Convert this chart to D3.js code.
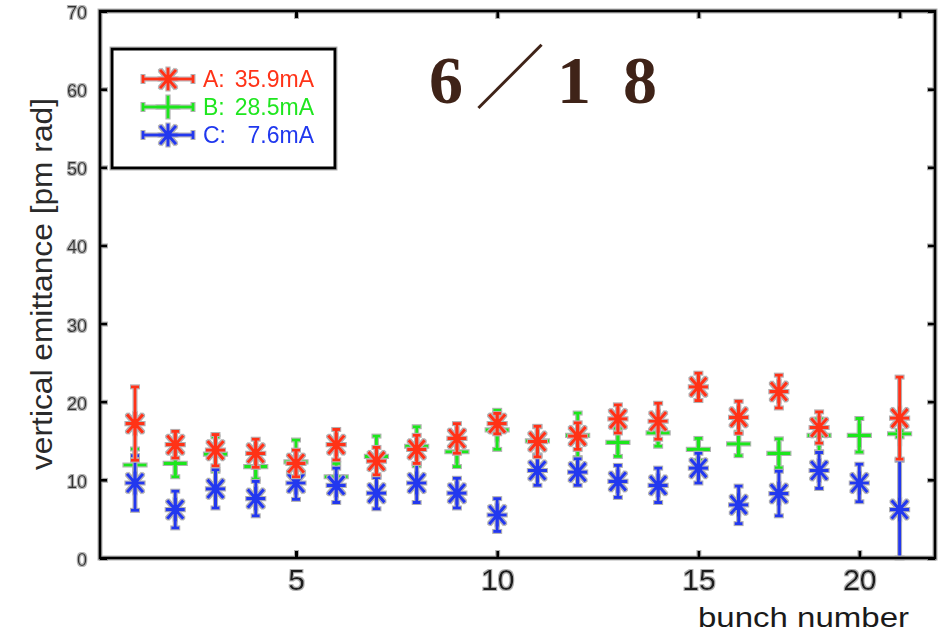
<!DOCTYPE html>
<html><head><meta charset="utf-8">
<script src="https://cdn.jsdelivr.net/npm/d3@7"></script>
<style>
html,body{margin:0;padding:0;background:#fff;}
svg{display:block;}
</style></head>
<body>
<script>
// ---------- data ----------
const bunches = [1,2,3,4,5,6,7,8,9,10,11,12,13,14,15,16,17,18,19,20];
const seriesA = [17.2,14.5,13.8,13.4,12.1,14.5,12.4,13.9,15.3,17.2,14.9,15.6,17.8,17.5,21.9,18.0,21.3,16.7,null,17.9];
const errA    = [4.7,1.7,2.0,1.8,1.7,1.95,1.75,1.8,1.9,1.3,1.95,1.7,1.8,2.3,1.75,2.05,2.1,2.0,null,5.25];
const seriesB = [11.9,12.1,13.3,11.7,12.3,10.4,13.0,14.3,13.6,16.4,15.0,15.7,14.8,16.0,13.9,14.6,13.4,15.7,15.7,15.9];
const errB    = [2.05,1.7,2.2,1.6,2.8,1.7,2.6,2.5,1.9,2.5,1.8,2.85,1.8,1.7,1.4,1.5,1.85,2.1,2.15,0.4];
const seriesC = [9.6,6.2,8.85,7.6,9.6,9.3,8.3,9.6,8.3,5.5,11.2,11.0,9.8,9.3,11.5,6.8,8.25,11.2,9.6,6.2];
const errC    = [3.5,2.35,2.45,2.2,2.1,2.2,2.0,2.5,1.9,2.1,1.9,1.7,2.05,2.2,1.9,2.4,2.85,2.3,2.4,6.3];
const legendNames  = ["A:","B:","C:"];
const legendValues = ["35.9mA","28.5mA","7.6mA"];
const yTicks = [0,10,20,30,40,50,60,70];
const xTickPos = [5,10,15,19];
const xTickLabels = ["5","10","15","20"];
const xTopTicks = [5,10,15,20];
const titleChars = ["6","／","1","8"];

// ---------- setup ----------
const W = 945, H = 635;
const svg = d3.select("body").append("svg").attr("width", W).attr("height", H);
const defs = svg.append("defs");
const f = defs.append("filter").attr("id","halo").attr("x","-20%").attr("y","-20%").attr("width","140%").attr("height","140%");
f.append("feMorphology").attr("in","SourceAlpha").attr("operator","dilate").attr("radius",1).attr("result","d");
f.append("feFlood").attr("flood-color","#b0b0b0");
f.append("feComposite").attr("in2","d").attr("operator","in").attr("result","o");
const fm = f.append("feMerge");
fm.append("feMergeNode").attr("in","o");
fm.append("feMergeNode").attr("in","SourceGraphic");

const L = 100, R = 935, T = 11, B = 558;
const x = d3.scaleLinear().domain([0.13, 20.88]).range([L, R]);
const y = d3.scaleLinear().domain([0, 70]).range([B, T]);

const sansFont = "'Liberation Sans', Arial, Helvetica, sans-serif";
const ink = "#1a1a1a";

const colors = {A:"#ff3318", B:"#1fe61f", C:"#2038ee"};

function marker(g, cx, cy, type, color) {
  let d;
  if (type === "star") {
    d = `M${cx-8},${cy}L${cx+8},${cy}M${cx},${cy-10}L${cx},${cy+10}` +
        `M${cx-7},${cy-8}L${cx+7},${cy+8}M${cx-7},${cy+8}L${cx+7},${cy-8}`;
  } else {
    d = `M${cx-10},${cy}L${cx+10},${cy}M${cx},${cy-10}L${cx},${cy+10}`;
  }
  g.append("path").attr("d", d).attr("stroke", color).attr("stroke-width", 3.2)
    .attr("fill","none").attr("stroke-linecap","square");
}

function drawSeries(vals, errs, color, type) {
  const g = svg.append("g").attr("filter","url(#halo)");
  bunches.forEach((b, i) => {
    const v = vals[i];
    if (v == null) return;
    const e = errs[i];
    const cx = x(b);
    const y1 = y(Math.max(0, v - e)), y2 = y(v + e);
    g.append("line").attr("x1",cx).attr("x2",cx).attr("y1",y1).attr("y2",y2)
      .attr("stroke",color).attr("stroke-width",3);
    g.append("line").attr("x1",cx-4).attr("x2",cx+4).attr("y1",y2).attr("y2",y2)
      .attr("stroke",color).attr("stroke-width",3);
    g.append("line").attr("x1",cx-4).attr("x2",cx+4).attr("y1",y1).attr("y2",y1)
      .attr("stroke",color).attr("stroke-width",3);
    marker(g, cx, y(v), type, color);
  });
}

// ---------- series (draw order: B, C, A) ----------
drawSeries(seriesB, errB, colors.B, "plus");
drawSeries(seriesC, errC, colors.C, "star");
drawSeries(seriesA, errA, colors.A, "star");

// ---------- axes / frame ----------
const axG = svg.append("g").attr("filter","url(#halo)");
axG.append("rect").attr("x",L).attr("y",T).attr("width",R-L).attr("height",B-T)
  .attr("fill","none").attr("stroke","#000").attr("stroke-width",3);

const yAxis = axG.append("g").attr("transform",`translate(${L},0)`)
  .call(d3.axisLeft(y).tickValues(yTicks).tickSizeInner(-7).tickSizeOuter(0).tickPadding(13));
const yAxisR = axG.append("g").attr("transform",`translate(${R},0)`)
  .call(d3.axisRight(y).tickValues(yTicks).tickSizeInner(-7).tickSizeOuter(0).tickFormat(""));
const xAxis = axG.append("g").attr("transform",`translate(0,${B})`)
  .call(d3.axisBottom(x).tickValues(xTickPos).tickFormat((d,i)=>xTickLabels[i])
        .tickSizeInner(-7).tickSizeOuter(0).tickPadding(11));
const xAxisT = axG.append("g").attr("transform",`translate(0,${T})`)
  .call(d3.axisTop(x).tickValues(xTopTicks).tickSizeInner(-7).tickSizeOuter(0).tickFormat(""));

[yAxis, yAxisR, xAxis, xAxisT].forEach(a => {
  a.select(".domain").remove();
  a.selectAll(".tick line").attr("stroke","#000").attr("stroke-width",3);
});
yAxis.selectAll(".tick text").attr("font-family",sansFont).attr("font-size",18)
  .attr("fill","#333").attr("dy","0.42em");
xAxis.selectAll(".tick text").attr("font-family",sansFont).attr("font-size",30).attr("fill",ink);

// axis titles
svg.append("text").attr("transform","translate(52,284) rotate(-90)")
  .attr("text-anchor","middle").attr("font-family",sansFont).attr("font-size",29)
  .attr("fill","#2a2a2a").attr("textLength",372).attr("lengthAdjust","spacingAndGlyphs")
  .text("vertical emittance [pm rad]");
svg.append("text").attr("x",909).attr("y",627).attr("text-anchor","end")
  .attr("font-family",sansFont).attr("font-size",28).attr("fill",ink)
  .attr("textLength",211).attr("lengthAdjust","spacingAndGlyphs")
  .text("bunch number");

// ---------- legend ----------
const lg = svg.append("g");
lg.append("rect").attr("x",112).attr("y",49).attr("width",223).attr("height",119)
  .attr("fill","#fff").attr("stroke","#000").attr("stroke-width",3).attr("filter","url(#halo)");
const legendColors = [colors.A, colors.B, colors.C];
const legendTypes = ["star","plus","star"];
const rowY = [79, 107, 135];
legendNames.forEach((nm, i) => {
  const g = lg.append("g").attr("filter","url(#halo)");
  const c = legendColors[i], yy = rowY[i];
  g.append("line").attr("x1",143).attr("x2",193).attr("y1",yy).attr("y2",yy)
    .attr("stroke",c).attr("stroke-width",3);
  g.append("line").attr("x1",143).attr("x2",143).attr("y1",yy-4).attr("y2",yy+4)
    .attr("stroke",c).attr("stroke-width",3);
  g.append("line").attr("x1",193).attr("x2",193).attr("y1",yy-4).attr("y2",yy+4)
    .attr("stroke",c).attr("stroke-width",3);
  marker(g, 168, yy, legendTypes[i], c);
  const t = lg.append("text").attr("font-family",sansFont).attr("font-size",23)
    .attr("fill",c).attr("y",yy+8);
  t.append("tspan").attr("x",203).text(nm);
  t.append("tspan").attr("x",314).attr("text-anchor","end").text(legendValues[i]);
});

// ---------- title ----------
const titleX = [446, 510, 574, 640];
const tt = svg.append("text").attr("y",103).attr("text-anchor","middle")
  .attr("font-family","'Liberation Serif','DejaVu Serif',serif").attr("font-weight","bold")
  .attr("font-size",68).attr("fill","#3f2318");
titleChars.forEach((ch, i) => {
  const sp = tt.append("tspan").attr("x",titleX[i]).text(ch);
  if (ch === "／") sp.attr("font-weight","normal").attr("font-family","'Noto Sans CJK JP',sans-serif").attr("font-size",70);
});
</script>
</body></html>
